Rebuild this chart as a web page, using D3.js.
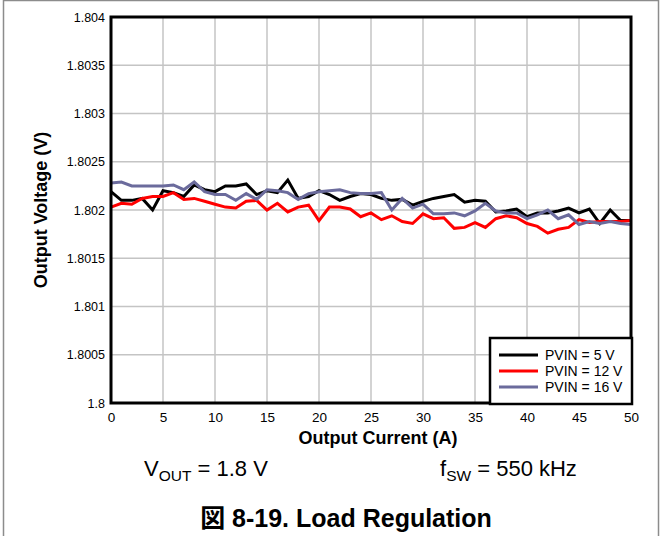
<!DOCTYPE html>
<html><head><meta charset="utf-8">
<script src="https://cdn.jsdelivr.net/npm/d3@7"></script>
<style>body{margin:0;background:#fff;}svg{display:block;font-family:"Liberation Sans",Arial,sans-serif;}</style>
</head><body>
<svg id="c" width="662" height="536"></svg>
<script>
const current = d3.range(0, 51, 1);
const xTicks = [0,5,10,15,20,25,30,35,40,45,50];
const yTicks = [1.8,1.8005,1.801,1.8015,1.802,1.8025,1.803,1.8035,1.804];
const yTickLabels = ["1.8","1.8005","1.801","1.8015","1.802","1.8025","1.803","1.8035","1.804"];
const seriesNames = ["PVIN = 5 V","PVIN = 12 V","PVIN = 16 V"];
const seriesColors = ["#000000","#ff0000","#6b6b9c"];
const pvin5 = [1.80219,1.80210,1.80210,1.80212,1.80200,1.80220,1.80218,1.80214,1.80226,1.80221,
1.80219,1.80225,1.80225,1.80227,1.80216,1.80220,1.80218,1.80231,1.80212,1.80214,
1.80220,1.80216,1.80210,1.80214,1.80217,1.80216,1.80212,1.80210,1.80211,1.80205,
1.80209,1.80212,1.80214,1.80216,1.80208,1.80210,1.80209,1.80198,1.80199,1.80201,
1.80193,1.80197,1.80197,1.80199,1.80202,1.80197,1.80201,1.80186,1.80200,1.80189,1.80189];
const pvin12 = [1.80203,1.80207,1.80206,1.80212,1.80214,1.80214,1.80218,1.80211,1.80212,1.80209,
1.80206,1.80203,1.80202,1.80209,1.80210,1.80200,1.80207,1.80198,1.80203,1.80205,
1.80189,1.80203,1.80203,1.80201,1.80193,1.80197,1.80190,1.80194,1.80188,1.80186,
1.80196,1.80191,1.80192,1.80181,1.80182,1.80187,1.80182,1.80191,1.80194,1.80192,
1.80186,1.80183,1.80176,1.80180,1.80182,1.80190,1.80187,1.80188,1.80188,1.80188,1.80189];
const pvin16 = [1.80228,1.80229,1.80225,1.80225,1.80225,1.80225,1.80226,1.80221,1.80229,1.80219,
1.80216,1.80216,1.80210,1.80217,1.80211,1.80221,1.80220,1.80218,1.80211,1.80217,
1.80219,1.80220,1.80221,1.80218,1.80217,1.80217,1.80218,1.80200,1.80212,1.80202,
1.80206,1.80196,1.80196,1.80197,1.80194,1.80199,1.80207,1.80199,1.80197,1.80197,
1.80191,1.80195,1.80200,1.80191,1.80195,1.80185,1.80188,1.80186,1.80188,1.80186,1.80185];
const seriesValues = [pvin5, pvin12, pvin16];

const svg = d3.select("#c");
const L = 111, R = 631, T = 17, B = 403;
const x = d3.scaleLinear().domain([0,50]).range([L,R]);
const y = d3.scaleLinear().domain([1.8,1.804]).range([B,T]);

// outer frame
svg.append("rect").attr("x",3.5).attr("y",0.5).attr("width",655).attr("height",545)
  .attr("fill","none").attr("stroke","#8c8c8c").attr("stroke-width",1.5);

// grid
const g = svg.append("g");
g.selectAll("line.vx").data(xTicks.slice(1,-1)).join("line")
  .attr("x1",d=>x(d)).attr("x2",d=>x(d)).attr("y1",T).attr("y2",B)
  .attr("stroke","#c4c4c4").attr("stroke-width",1.5);
g.selectAll("line.hy").data(yTicks.slice(1,-1)).join("line")
  .attr("y1",d=>y(d)).attr("y2",d=>y(d)).attr("x1",L).attr("x2",R)
  .attr("stroke","#c4c4c4").attr("stroke-width",1.5);

// axes labels via d3 axes
const xAxis = d3.axisBottom(x).tickValues(xTicks).tickSize(0).tickPadding(9);
const xa = svg.append("g").attr("transform",`translate(0,${B})`).call(xAxis);
xa.select(".domain").remove();
xa.selectAll("text").attr("font-size",13.5).attr("fill","#000").attr("font-family","Liberation Sans, Arial, sans-serif");

const yAxis = d3.axisLeft(y).tickValues(yTicks).tickSize(0).tickPadding(6).tickFormat((d,i)=>yTickLabels[i]);
const ya = svg.append("g").attr("transform",`translate(${L},0)`).call(yAxis);
ya.select(".domain").remove();
ya.selectAll("text").attr("font-size",12.5).attr("fill","#000").attr("font-family","Liberation Sans, Arial, sans-serif");

// lines
const line = d3.line().x((d,i)=>x(current[i])).y(d=>y(d));
seriesValues.forEach((vals,k)=>{
  svg.append("path").datum(vals).attr("d",line).attr("fill","none")
    .attr("stroke",seriesColors[k]).attr("stroke-width",3).attr("stroke-linejoin","miter");
});

// plot frame
svg.append("rect").attr("x",L).attr("y",T).attr("width",R-L).attr("height",B-T)
  .attr("fill","none").attr("stroke","#000").attr("stroke-width",3);

// axis titles
svg.append("text").attr("x",(L+R)/2 + 7).attr("y",444).attr("text-anchor","middle")
  .attr("font-size",18).attr("font-weight","bold").text("Output Current (A)");
svg.append("text").attr("transform",`translate(47,${(T+B)/2}) rotate(-90)`).attr("text-anchor","middle")
  .attr("font-size",18).attr("font-weight","bold").text("Output Voltage (V)");

// legend
const lg = svg.append("g");
lg.append("rect").attr("x",490).attr("y",338).attr("width",142).attr("height",66)
  .attr("fill","#fff").attr("stroke","#000").attr("stroke-width",2.5);
seriesNames.forEach((n,k)=>{
  const yy = 355 + k*16;
  lg.append("line").attr("x1",499).attr("x2",538).attr("y1",yy).attr("y2",yy)
    .attr("stroke",seriesColors[k]).attr("stroke-width",3);
  lg.append("text").attr("x",545).attr("y",yy+5).attr("font-size",14).text(n);
});

// annotations
const t1 = svg.append("text").attr("x",144).attr("y",476).attr("font-size",22);
t1.append("tspan").text("V");
t1.append("tspan").attr("dy",5).attr("font-size",15.5).text("OUT");
t1.append("tspan").attr("dy",-5).text(" = 1.8 V");
const t2 = svg.append("text").attr("x",440).attr("y",476).attr("font-size",22);
t2.append("tspan").text("f");
t2.append("tspan").attr("dy",5).attr("font-size",15.5).text("SW");
t2.append("tspan").attr("dy",-5).text(" = 550 kHz");

svg.append("text").attr("x",346).attr("y",527).attr("text-anchor","middle")
  .attr("font-size",25).attr("font-weight","bold")
  .attr("font-family","Liberation Sans, 'Noto Sans CJK JP', Arial, sans-serif")
  .text("図 8-19. Load Regulation");
</script>
</body></html>
